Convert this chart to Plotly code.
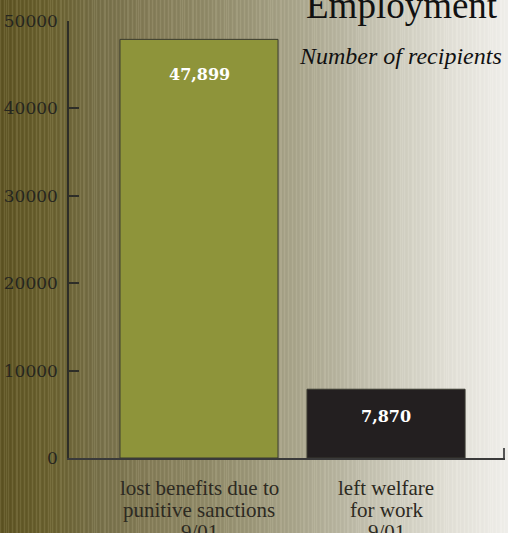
import base64
import plotly.graph_objects as go

# ---- data ----
categories = ["lost benefits due to punitive sanctions 9/01", "left welfare for work 9/01"]
category_lines = [["lost benefits due to", "punitive sanctions", "9/01"],
                  ["left welfare", "for work", "9/01"]]
values = [47899, 7870]
value_labels = ["47,899", "7,870"]
bar_colors = ["#8e943a", "#231f20"]
y_ticks = [0, 10000, 20000, 30000, 40000, 50000]
title_text = "Employment"
subtitle_text = "Number of recipients"

W, H = 508, 533
L, R, T, B = 69, 3, 21, 75
pw, ph = W - L - R, H - T - B

# ---- striped gradient background (decoration) ----
stops = [(0, (94, 84, 36)), (50, (106, 97, 48)), (100, (119, 112, 74)), (150, (132, 124, 88)),
         (200, (142, 136, 102)), (250, (155, 150, 120)), (300, (170, 166, 141)),
         (350, (187, 184, 165)), (400, (207, 205, 191)), (450, (225, 223, 214)), (508, (239, 238, 234))]

def grad(x):
    for (x0, c0), (x1, c1) in zip(stops, stops[1:]):
        if x0 <= x <= x1:
            t = (x - x0) / (x1 - x0)
            return [c0[k] + (c1[k] - c0[k]) * t for k in range(3)]
    return list(stops[-1][1])

rects = []
for i in range(W):
    c = grad(i + 0.5)
    amp = 12 * (1 - i / W) + 3
    if i % 4 == 0 or (i % 11 == 6):
        c = [min(255, v + amp) for v in c]
    elif i % 4 == 2:
        c = [max(0, v - amp * 0.3) for v in c]
    col = "#%02x%02x%02x" % tuple(int(round(v)) for v in c)
    rects.append(f'<rect x="{i}" y="0" width="1" height="{H}" fill="{col}"/>')
svg = (f'<svg xmlns="http://www.w3.org/2000/svg" width="{W}" height="{H}" '
       f'viewBox="0 0 {W} {H}" preserveAspectRatio="none">' + "".join(rects) + "</svg>")
bg_uri = "data:image/svg+xml;base64," + base64.b64encode(svg.encode()).decode()

x_pos = list(range(len(categories)))

fig = go.Figure()
fig.add_trace(go.Bar(
    x=x_pos, y=values, width=0.845,
    marker=dict(color=bar_colors, line=dict(color="#3a3a30", width=1)),
    hoverinfo="skip", showlegend=False,
))

annotations = []
# value labels
for xi, v, lab, shift in zip(x_pos, values, value_labels, [-35, -27]):
    annotations.append(dict(x=xi, y=v, xref="x", yref="y", text=f"<b>{lab}</b>", showarrow=False,
                            yanchor="middle", yshift=shift,
                            font=dict(family="DejaVu Serif", size=16, color="#ffffff")))
# category labels (one annotation per line for tight line spacing)
for xi, lines in zip(x_pos, category_lines):
    for j, line in enumerate(lines):
        annotations.append(dict(x=xi, y=0, xref="x", yref="paper", text=line, showarrow=False,
                                yanchor="top", yshift=-16 - 22 * j,
                                font=dict(family="Liberation Serif", size=21, color="#2d2a22")))
# title / subtitle
annotations.append(dict(x=(500 - L) / pw, y=1, xref="paper", yref="paper", text=title_text,
                        showarrow=False, xanchor="right", yanchor="bottom", yshift=-7,
                        font=dict(family="Liberation Serif", size=37, color="#111111")))
annotations.append(dict(x=(504 - L) / pw, y=1, xref="paper", yref="paper", text=f"<i>{subtitle_text}</i>",
                        showarrow=False, xanchor="right", yanchor="bottom", yshift=-50,
                        font=dict(family="Liberation Serif", size=24, color="#111111")))

fig.update_layout(
    width=W, height=H,
    margin=dict(l=L, r=R, t=T, b=B, pad=0),
    paper_bgcolor="rgba(0,0,0,0)", plot_bgcolor="rgba(0,0,0,0)",
    images=[dict(source=bg_uri, xref="paper", yref="paper", x=-L / pw, y=1 + T / ph,
                 sizex=W / pw, sizey=H / ph, xanchor="left", yanchor="top",
                 sizing="stretch", layer="below")],
    xaxis=dict(range=[-0.695, 1.636], showticklabels=False, ticks="", showgrid=False,
               zeroline=False, showline=True, linecolor="#3a3a3a", linewidth=2),
    yaxis=dict(range=[0, 50000], tickvals=y_ticks, ticktext=[str(t) for t in y_ticks],
               ticks="inside", ticklen=10, tickwidth=1.5, tickcolor="#2e2e28",
               showgrid=False, zeroline=False, showline=True, linecolor="#2e2e28", linewidth=1.5,
               ticklabelstandoff=6,
               tickfont=dict(family="DejaVu Serif", size=17, color="#26261f")),
    annotations=annotations,
    shapes=[dict(type="line", xref="paper", yref="paper", x0=1 - 1 / pw, x1=1 - 1 / pw,
                 y0=0, y1=10 / ph, line=dict(color="#555555", width=2))],
)

fig.write_html("out.html", config={"displayModeBar": False},
               post_script="document.body.style.margin='0';document.body.style.overflow='hidden';")
